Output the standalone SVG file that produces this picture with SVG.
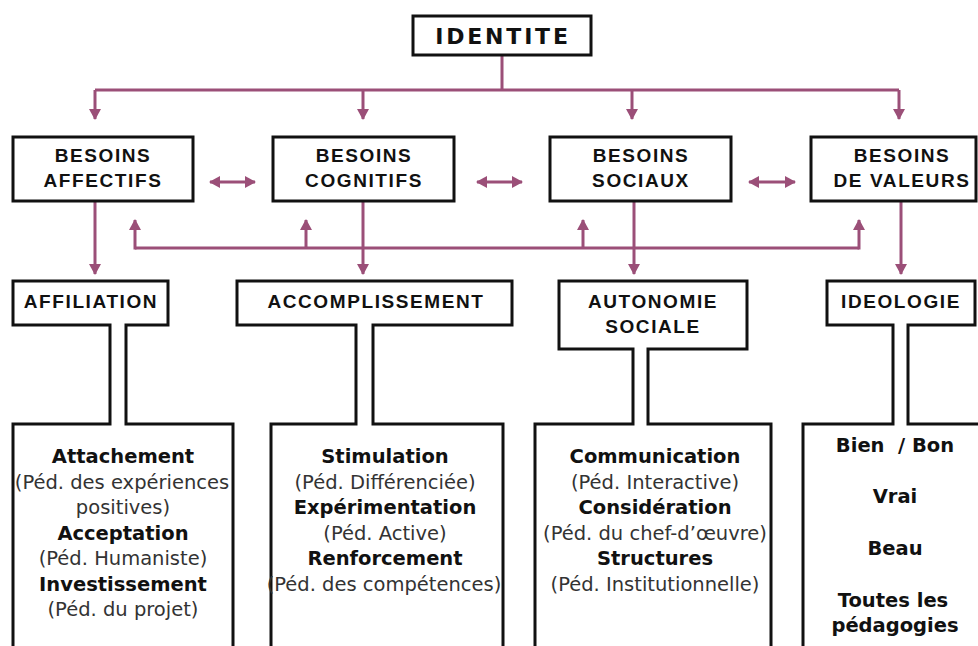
<svg xmlns="http://www.w3.org/2000/svg" width="978" height="646" viewBox="0 0 978 646">
<defs>
<marker id="ah" viewBox="0 0 11 12" refX="10" refY="6" markerWidth="11" markerHeight="12" markerUnits="userSpaceOnUse" orient="auto-start-reverse">
<path d="M0,0 L11,6 L0,12 z" fill="#9b4f78"/>
</marker>
<style>
.box{fill:#fff;stroke:#111;stroke-width:3}
.frame{fill:none;stroke:#111;stroke-width:3;stroke-linejoin:miter}
.hd{font-family:"Liberation Sans",Arial,sans-serif;font-weight:bold;font-size:19px;letter-spacing:1.6px;fill:#111;text-anchor:middle}
.top{font-family:"DejaVu Sans",Verdana,sans-serif;font-weight:bold;font-size:22px;letter-spacing:2.8px;fill:#111;text-anchor:middle}
.b{font-family:"DejaVu Sans",Verdana,sans-serif;font-weight:bold;font-size:19.5px;fill:#111;text-anchor:middle}
.r{font-family:"DejaVu Sans",Verdana,sans-serif;font-size:19.5px;fill:#333;text-anchor:middle}
.c{fill:none;stroke:#9b4f78;stroke-width:3}
.a{fill:none;stroke:#9b4f78;stroke-width:3;marker-end:url(#ah)}
.d{fill:none;stroke:#9b4f78;stroke-width:3;marker-end:url(#ah);marker-start:url(#ah)}
</style>
</defs>
<rect width="978" height="646" fill="#fff"/>

<g id="connectors">
<path class="c" d="M502,55 V90 M95,90 H899"/>
<path class="a" d="M95,90 V119"/>
<path class="a" d="M363,90 V119"/>
<path class="a" d="M632,90 V119"/>
<path class="a" d="M899,90 V119"/>
<path class="d" d="M210,182 H255"/>
<path class="d" d="M477,182 H522"/>
<path class="d" d="M749,182 H795"/>
<path class="a" d="M95,201 V274"/>
<path class="a" d="M363,201 V274"/>
<path class="a" d="M634,201 V274"/>
<path class="a" d="M901,201 V274"/>
<path class="c" d="M135,248 H859"/>
<path class="a" d="M135,249.5 V220"/>
<path class="a" d="M306,248 V220"/>
<path class="a" d="M583,248 V220"/>
<path class="a" d="M859,249.5 V220"/>
</g>

<g id="identite">
<rect class="box" x="413" y="16" width="178" height="39"/>
<text class="top" x="503" y="44">IDENTITE</text>
</g>

<g id="besoins-affectifs">
<rect class="box" x="13" y="137" width="180" height="64"/>
<text class="hd" x="103" y="162">BESOINS</text>
<text class="hd" x="103" y="187">AFFECTIFS</text>
</g>
<g id="besoins-cognitifs">
<rect class="box" x="273" y="137" width="181" height="64"/>
<text class="hd" x="364" y="162">BESOINS</text>
<text class="hd" x="364" y="187">COGNITIFS</text>
</g>
<g id="besoins-sociaux">
<rect class="box" x="550" y="137" width="181" height="64"/>
<text class="hd" x="641" y="162">BESOINS</text>
<text class="hd" x="641" y="187">SOCIAUX</text>
</g>
<g id="besoins-valeurs">
<rect class="box" x="811" y="137" width="165" height="64"/>
<text class="hd" x="902" y="162">BESOINS</text>
<text class="hd" x="902" y="187">DE VALEURS</text>
</g>

<g id="affiliation">
<path class="frame" d="M13,650 V424 H110 V325 H13 V281 H168 V325 H126 V424 H233 V650"/>
<text class="hd" x="91" y="308">AFFILIATION</text>
<text class="b" x="123" y="463">Attachement</text>
<text class="r" x="122" y="489">(Péd. des expériences</text>
<text class="r" x="123" y="514">positives)</text>
<text class="b" x="123" y="540">Acceptation</text>
<text class="r" x="123" y="565">(Péd. Humaniste)</text>
<text class="b" x="123" y="591">Investissement</text>
<text class="r" x="123" y="616">(Péd. du projet)</text>
</g>

<g id="accomplissement">
<path class="frame" d="M271,650 V424 H356 V325 H237 V281 H512 V325 H373 V424 H503 V650"/>
<text class="hd" x="376" y="308">ACCOMPLISSEMENT</text>
<text class="b" x="385" y="463">Stimulation</text>
<text class="r" x="385" y="489">(Péd. Différenciée)</text>
<text class="b" x="385" y="514">Expérimentation</text>
<text class="r" x="385" y="540">(Péd. Active)</text>
<text class="b" x="385" y="565">Renforcement</text>
<text class="r" x="384" y="591">(Péd. des compétences)</text>
</g>

<g id="autonomie-sociale">
<path class="frame" d="M535,650 V424 H633 V349 H559 V281 H747 V349 H648 V424 H771 V650"/>
<text class="hd" x="653" y="308">AUTONOMIE</text>
<text class="hd" x="653" y="333">SOCIALE</text>
<text class="b" x="655" y="463">Communication</text>
<text class="r" x="655" y="489">(Péd. Interactive)</text>
<text class="b" x="655" y="514">Considération</text>
<text class="r" x="655" y="540">(Péd. du chef-d’œuvre)</text>
<text class="b" x="655" y="565">Structures</text>
<text class="r" x="655" y="591">(Péd. Institutionnelle)</text>
</g>

<g id="ideologie">
<path class="frame" d="M803,650 V424 H893 V325 H827 V281 H975 V325 H908 V424 H980"/>
<text class="hd" x="901" y="308">IDEOLOGIE</text>
<text class="b" x="895" y="452" xml:space="preserve">Bien  / Bon</text>
<text class="b" x="895" y="503">Vrai</text>
<text class="b" x="895" y="555">Beau</text>
<text class="b" x="893" y="607">Toutes les</text>
<text class="b" x="895" y="632">pédagogies</text>
</g>
</svg>
